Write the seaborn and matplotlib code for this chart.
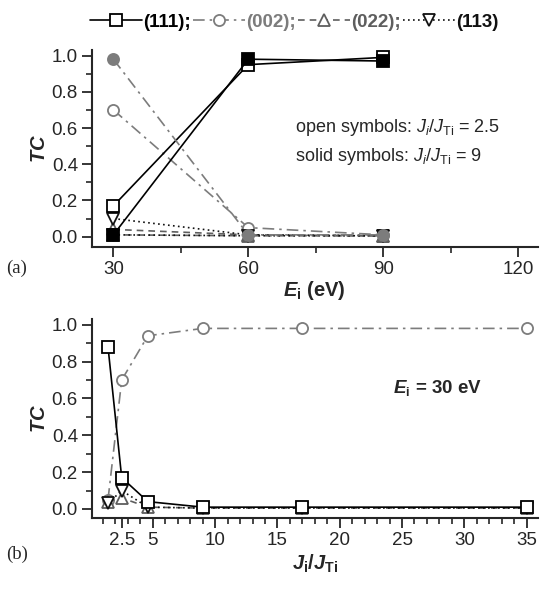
import matplotlib
matplotlib.use("Agg")
import matplotlib.pyplot as plt
from matplotlib.lines import Line2D
from matplotlib.ticker import MultipleLocator, FixedLocator, FormatStrFormatter
import seaborn as sns

# ---------------- data ----------------
# panel (a): texture coefficient vs ion energy
energy = [30, 60, 90]
# open symbols: Ji/JTi = 2.5
tc111_open = [0.17, 0.95, 0.99]
tc002_open = [0.70, 0.05, 0.01]
tc022_open = [0.04, 0.01, 0.005]
tc113_open = [0.10, 0.01, 0.005]
# solid symbols: Ji/JTi = 9
tc111_solid = [0.01, 0.98, 0.97]
tc002_solid = [0.98, 0.01, 0.01]
tc022_solid = [0.01, 0.005, 0.005]
tc113_solid = [0.01, 0.005, 0.005]

# panel (b): texture coefficient vs flux ratio at Ei = 30 eV
ratio = [1.4, 2.5, 4.6, 9, 17, 35]
b111 = [0.88, 0.17, 0.04, 0.01, 0.01, 0.01]
b002 = [0.05, 0.70, 0.94, 0.98, 0.98, 0.98]
b022 = [0.04, 0.06, 0.01, 0.005, 0.005, 0.005]
b113 = [0.03, 0.10, 0.01, 0.005, 0.005, 0.005]

legend_labels = ["(111);", "(002);", "(022);", "(113)"]
xticks_a = [30, 60, 90, 120]
xticks_b = [2.5, 5, 10, 15, 20, 25, 30, 35]

# ---------------- style ----------------
sns.set_style("ticks")
plt.rcParams["font.family"] = ["Liberation Sans", "DejaVu Sans"]
plt.rcParams["mathtext.fontset"] = "custom"
plt.rcParams["mathtext.rm"] = "Liberation Sans"
plt.rcParams["mathtext.it"] = "Liberation Sans:italic"
plt.rcParams["mathtext.bf"] = "Liberation Sans:bold:italic"
plt.rcParams["mathtext.sf"] = "Liberation Sans:bold"

FS = 13.5
c111, c002, c022, c113 = "black", "#7c7c7c", "#5e5e5e", "#111111"
styles = {
    "111": dict(color=c111, ls="-", marker="s"),
    "002": dict(color=c002, ls=(0, (7, 3, 1.5, 3)), marker="o"),
    "022": dict(color=c022, ls=(0, (4, 3)), marker="^"),
    "113": dict(color=c113, ls=(0, (1, 2)), marker="v"),
}
MS, MEW, LW = 8, 1.3, 1.2

fig = plt.figure(figsize=(5.4, 5.9), dpi=100)
ax_a = fig.add_axes([0.170, 0.582, 0.826, 0.333])
ax_b = fig.add_axes([0.170, 0.122, 0.826, 0.337])


def draw(ax, x, y, key, filled, z=3):
    st = styles[key]
    sns.lineplot(x=x, y=y, ax=ax, color=st["color"], linestyle=st["ls"],
                 linewidth=LW, marker=st["marker"], markersize=MS,
                 markeredgewidth=MEW, markeredgecolor=st["color"],
                 markerfacecolor=st["color"] if filled else "white",
                 estimator=None, sort=False, zorder=z)


# panel (a)
draw(ax_a, energy, tc022_open, "022", False)
draw(ax_a, energy, tc113_open, "113", False)
draw(ax_a, energy, tc002_open, "002", False)
draw(ax_a, energy, tc111_open, "111", False)
draw(ax_a, energy, tc022_solid, "022", True, 4)
draw(ax_a, energy, tc113_solid, "113", True, 4)
draw(ax_a, energy, tc002_solid, "002", True, 4)
draw(ax_a, energy, tc111_solid, "111", True, 4)

# panel (b)
draw(ax_b, ratio, b002, "002", False)
draw(ax_b, ratio, b022, "022", False)
draw(ax_b, ratio, b113, "113", False)
draw(ax_b, ratio, b111, "111", False)

for ax in (ax_a, ax_b):
    for s in ("top", "right"):
        ax.spines[s].set_visible(False)
    for s in ("left", "bottom"):
        ax.spines[s].set_linewidth(1.5)
    ax.yaxis.set_major_locator(MultipleLocator(0.2))
    ax.yaxis.set_minor_locator(MultipleLocator(0.1))
    ax.yaxis.set_major_formatter(FormatStrFormatter("%.1f"))
    ax.tick_params(which="major", direction="out", length=7, width=1.3,
                   labelsize=FS, pad=3)
    ax.tick_params(which="minor", direction="out", length=4, width=1.2)
    ax.set_ylabel(r"$\mathbf{TC}$", fontsize=FS + 1, labelpad=2)
    ax.legend_ = None

ax_a.set_xlim(25.2, 124.4)
ax_a.set_ylim(-0.055, 1.03)
ax_a.xaxis.set_major_locator(FixedLocator(xticks_a))
ax_a.xaxis.set_minor_locator(FixedLocator([45, 75, 105]))
ax_a.set_xlabel(r"$\mathbf{E}_\mathsf{i}$ (eV)", fontsize=FS + 1,
                fontweight="bold", labelpad=1)
ax_a.text(70.4, 0.605, r"open symbols: $J_i/J_\mathrm{Ti}$ = 2.5",
          fontsize=FS - 0.5, ha="left", va="center")
ax_a.text(70.4, 0.44, r"solid symbols: $J_i/J_\mathrm{Ti}$ = 9",
          fontsize=FS - 0.5, ha="left", va="center")

ax_b.set_xlim(0.1, 35.9)
ax_b.set_ylim(-0.049, 1.03)
ax_b.xaxis.set_major_locator(FixedLocator(xticks_b))
ax_b.xaxis.set_major_formatter(FormatStrFormatter("%g"))
ax_b.xaxis.set_minor_locator(MultipleLocator(1))
ax_b.set_xlabel(r"$\mathbf{J}_\mathsf{i}\mathsf{/}\mathbf{J}_\mathsf{Ti}$",
                fontsize=FS + 1, labelpad=3)
ax_b.text(24.3, 0.658, r"$\mathbf{E}_\mathsf{i}$ = 30 eV", fontsize=FS,
          fontweight="bold", ha="left", va="center")

fig.text(0.012, 0.545, "(a)", family="Liberation Serif", fontsize=FS,
         va="center")
fig.text(0.012, 0.06, "(b)", family="Liberation Serif", fontsize=FS,
         va="center")

# legend
handles = []
for key in ("111", "002", "022", "113"):
    st = styles[key]
    handles.append(Line2D([], [], color=st["color"], linestyle=st["ls"],
                          linewidth=LW, marker=st["marker"], markersize=MS,
                          markeredgewidth=MEW, markeredgecolor=st["color"],
                          markerfacecolor="white"))
leg = fig.legend(handles, legend_labels, ncol=4, loc="center",
                 bbox_to_anchor=(0.545, 0.962), frameon=False,
                 handlelength=2.8, handletextpad=0.05, columnspacing=0.1,
                 prop=dict(weight="bold", size=FS))
for t, key in zip(leg.get_texts(), ("111", "002", "022", "113")):
    t.set_color(styles[key]["color"])

fig.savefig("out.png", dpi=100)
